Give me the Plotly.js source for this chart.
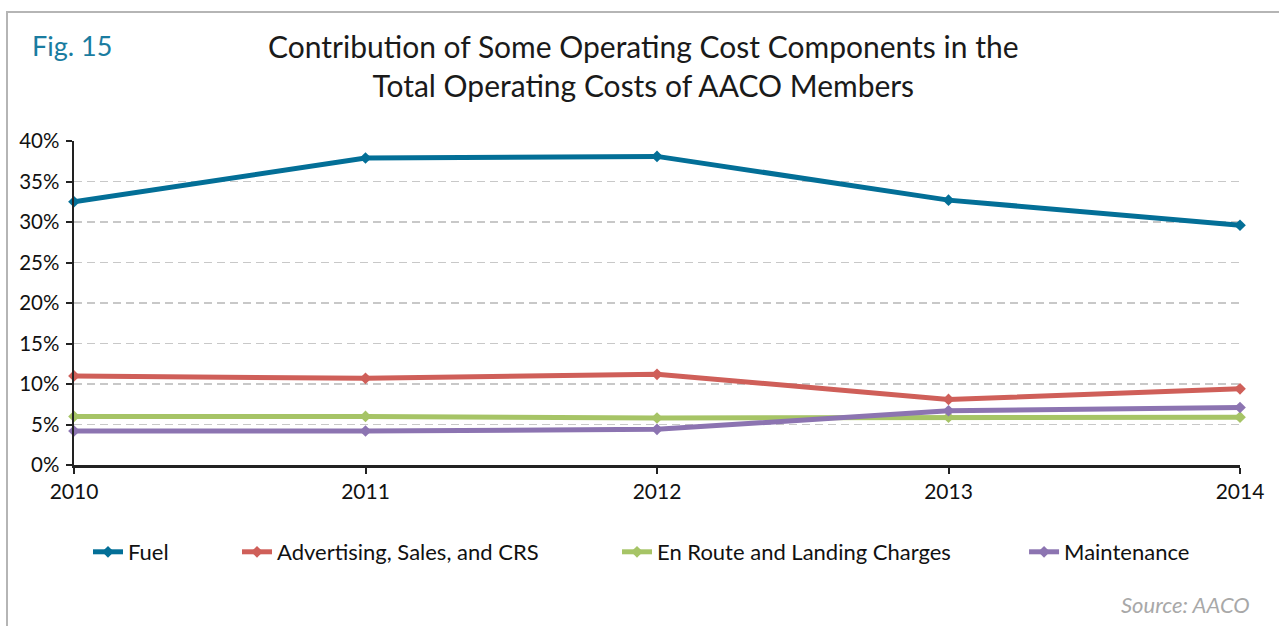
<!DOCTYPE html>
<html>
<head>
<meta charset="utf-8">
<script src="https://cdn.plot.ly/plotly-3.0.1.min.js"></script>
<style>
html,body{margin:0;padding:0;background:#fff;}
#frame{position:absolute;left:6px;top:11px;width:1400px;height:700px;border-left:2px solid #b5b5b5;border-top:2px solid #b5b5b5;pointer-events:none;}
#chart{position:absolute;left:0;top:0;width:1279px;height:626px;}
</style>
</head>
<body>
<div id="frame"></div>
<div id="chart"></div>
<script>
const years = [2010, 2011, 2012, 2013, 2014];
const fuel = [32.5, 37.9, 38.1, 32.7, 29.6];
const advertising = [11.0, 10.7, 11.2, 8.1, 9.4];
const enRoute = [6.0, 6.0, 5.8, 5.9, 5.9];
const maintenance = [4.2, 4.2, 4.4, 6.7, 7.1];
const seriesNames = ["Fuel", "Advertising, Sales, and CRS", "En Route and Landing Charges", "Maintenance"];
const seriesColors = ["#036f97", "#cf5f59", "#a6c466", "#8c74b1"];
const yTicks = [0, 5, 10, 15, 20, 25, 30, 35, 40];
const yTickLabels = ["0%", "5%", "10%", "15%", "20%", "25%", "30%", "35%", "40%"];
const xTickLabels = ["2010", "2011", "2012", "2013", "2014"];

const FONT = "Lato, 'Open Sans', sans-serif";
const legendIds = ["legend", "legend2", "legend3", "legend4"];
const legendX = [0.012, 0.1398, 0.4657, 0.8148];
const allSeries = [fuel, advertising, enRoute, maintenance];
const traces = allSeries.map((vals, i) => ({
  x: years,
  y: vals,
  name: seriesNames[i],
  legend: legendIds[i],
  type: "scatter",
  mode: "lines+markers",
  line: {color: seriesColors[i], width: 5},
  marker: {symbol: "diamond", size: 9, color: seriesColors[i]},
  cliponaxis: false
}));

const layout = {
  width: 1279,
  height: 626,
  margin: {l: 74, r: 39, t: 141, b: 161},
  paper_bgcolor: "rgba(0,0,0,0)",
  plot_bgcolor: "rgba(0,0,0,0)",
  font: {family: FONT, color: "#111", size: 20},
  showlegend: true,
  xaxis: {
    range: [2010, 2014],
    tickvals: years,
    ticktext: xTickLabels,
    showgrid: false,
    zeroline: false,
    showline: true,
    linecolor: "#222",
    linewidth: 2.5,
    ticks: "outside",
    ticklen: 6,
    tickwidth: 2,
    tickcolor: "#222",
    tickfont: {family: FONT, size: 21, color: "#111"}
  },
  yaxis: {
    range: [0, 40],
    tickvals: yTicks,
    ticktext: yTickLabels,
    showgrid: true,
    gridcolor: "#c8c8c8",
    griddash: "8px,5px",
    gridwidth: 1.5,
    zeroline: false,
    showline: true,
    linecolor: "#222",
    linewidth: 2.5,
    ticks: "outside",
    ticklen: 6,
    tickwidth: 2,
    tickcolor: "#222",
    ticklabelstandoff: 2,
    tickfont: {family: FONT, size: 20.5, color: "#111"}
  },
  annotations: [
    {
      xref: "paper", yref: "paper",
      x: 0.488, y: 1.2315, xanchor: "center", yanchor: "middle",
      text: "Contribution of Some Operating Cost Components in the<br>Total Operating Costs of AACO Members",
      showarrow: false,
      font: {family: FONT, size: 30, color: "#1a1a1a"}
    },
    {
      xref: "paper", yref: "paper",
      x: -0.0377, y: 1.296, xanchor: "left", yanchor: "middle",
      text: "Fig. 15",
      showarrow: false,
      font: {family: FONT, size: 27, color: "#1a7ca0"}
    },
    {
      xref: "paper", yref: "paper",
      x: 1.0103, y: -0.432, xanchor: "right", yanchor: "middle",
      text: "<i>Source: AACO</i>",
      showarrow: false,
      font: {family: FONT, size: 22, color: "#a8a8a8"}
    }
  ]
};
legendIds.forEach((id, i) => {
  layout[id] = {
    orientation: "h",
    x: legendX[i], xanchor: "left",
    y: -0.2685, yanchor: "middle",
    bgcolor: "rgba(0,0,0,0)",
    font: {family: FONT, size: 22, color: "#111"},
    itemwidth: 30
  };
});

Plotly.newPlot("chart", traces, layout, {displayModeBar: false, staticPlot: true});
</script>
</body>
</html>
